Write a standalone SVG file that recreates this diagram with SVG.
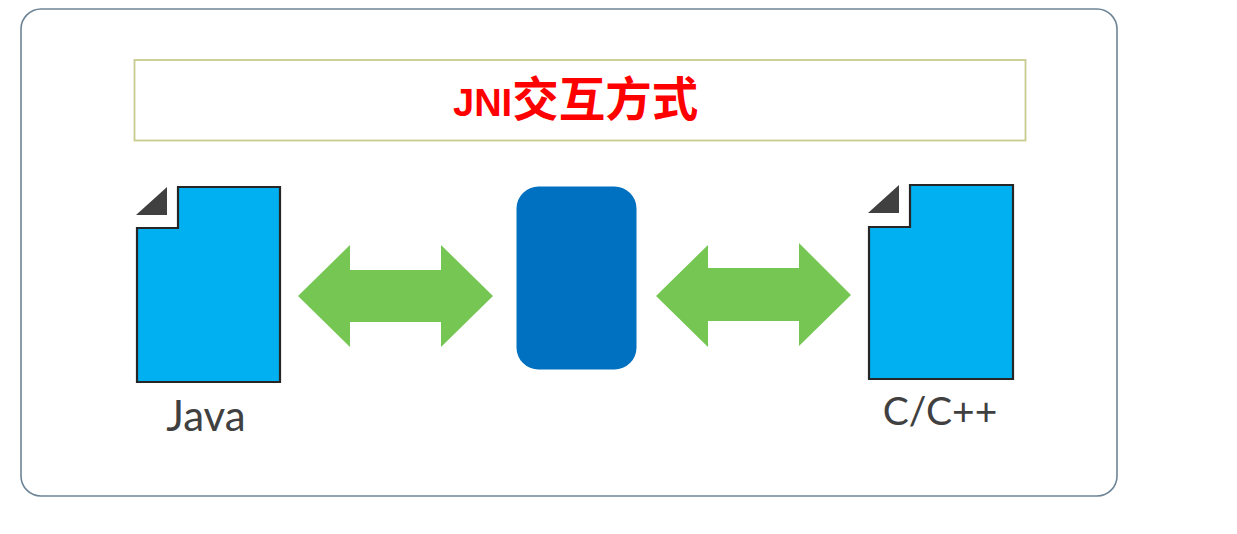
<svg xmlns="http://www.w3.org/2000/svg" width="1237" height="534" viewBox="0 0 1237 534">
<defs><style>
.doc{fill:#00b0f0;stroke:#262626;stroke-width:2.200}
.fold{fill:#404040}
.arrow{fill:#75c653}
.lbl{font-family:"Lato","Open Sans",sans-serif;font-size:39px;fill:#404040;text-anchor:middle}
.ttl{font-family:"Noto Sans CJK SC","Liberation Sans",sans-serif;font-weight:700;fill:#ff0000}
</style></defs>
<rect width="1237" height="534" fill="#ffffff"/>
<g id="frame"><rect x="21" y="9" width="1096" height="487" rx="20" fill="#ffffff" stroke="#6d8496" stroke-width="1.6"/></g>
<g id="title"><rect x="134.500" y="60" width="891" height="80.500" fill="#ffffff" stroke="#c6cb8e" stroke-width="1.800"/>
<text class="ttl" x="453" y="116"><tspan font-size="38" font-family="'Liberation Sans',sans-serif">JNI</tspan><tspan font-size="46.500">交互方式</tspan></text></g>
<g id="java"><path class="doc" d="M178 187H280V382H137V228H178Z"/><path class="fold" d="M136 215L167 187V215Z"/>
<text class="lbl" x="206" y="431" style="font-size:42px">Java</text></g>
<g id="jni"><rect x="516.500" y="186.500" width="120" height="183" rx="22" fill="#0070c0"/></g>
<g id="cpp"><path class="doc" d="M910 185H1013V379H869V227H910Z"/><path class="fold" d="M868 213L899 185V213Z"/>
<text class="lbl" x="940" y="425">C/C++</text></g>
<g id="connectors">
<path class="arrow" d="M298 296L350 245V270H441V245L493 296L441 347V322H350V347Z"/>
<path class="arrow" d="M656 296L708 245V268H799V243L851 295L799 346V321H708V347Z"/>
</g>
</svg>
